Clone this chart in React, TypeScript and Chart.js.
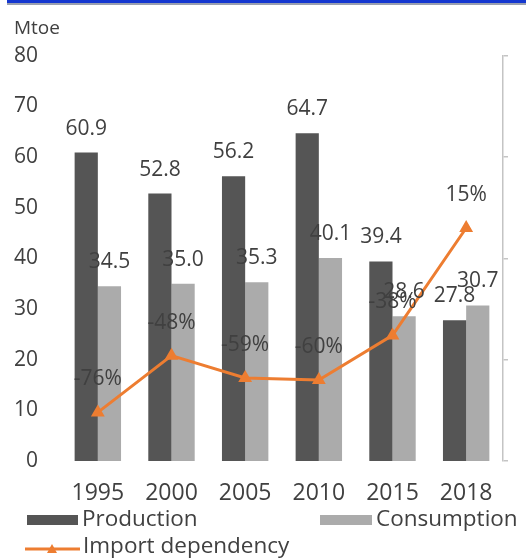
import React, { useEffect, useRef } from "react";
import { Chart, registerables } from "chart.js";

Chart.register(...registerables);

// ---- data ----
const years = ["1995", "2000", "2005", "2010", "2015", "2018"];
const production = [60.9, 52.8, 56.2, 64.7, 39.4, 27.8];
const consumption = [34.5, 35.0, 35.3, 40.1, 28.6, 30.7];
const importDependency = [-76, -48, -59, -60, -38, 15];
const leftAxis = { min: 0, max: 80, step: 10 };
const rightAxis = { min: -100, max: 100, step: 50 };
const unitLabel = "Mtoe";

const FONT = "'Open Sans', 'DejaVu Sans', sans-serif";
const TEXT = "#404040";
const PROD_COLOR = "#555555";
const CONS_COLOR = "#ababab";
const LINE_COLOR = "#ED7D31";

const valueLabels = {
  id: "valueLabels",
  afterDatasetsDraw(chart: any) {
    const ctx = chart.ctx;
    ctx.save();
    ctx.font = `21px ${FONT}`;
    ctx.fillStyle = TEXT;
    ctx.textAlign = "center";
    ctx.textBaseline = "middle";
    chart.data.datasets.forEach((ds: any, i: number) => {
      const meta = chart.getDatasetMeta(i);
      meta.data.forEach((el: any, j: number) => {
        const v = ds.data[j];
        if (ds.type === "line") ctx.fillText(`${v}%`, el.x, el.y - 33);
        else ctx.fillText(Number(v).toFixed(1), el.x, el.y - 24);
      });
    });
    ctx.restore();
  },
};

const bottomLegend = {
  id: "bottomLegend",
  afterDraw(chart: any) {
    const ctx = chart.ctx;
    const ds = chart.data.datasets;
    ctx.save();
    ctx.font = `22.5px ${FONT}`;
    ctx.textAlign = "left";
    ctx.textBaseline = "middle";
    // Production
    ctx.fillStyle = ds[1].backgroundColor;
    ctx.fillRect(27, 515, 51, 10);
    ctx.fillStyle = TEXT;
    ctx.fillText(ds[1].label, 82, 520);
    // Consumption
    ctx.fillStyle = ds[2].backgroundColor;
    ctx.fillRect(320, 515, 52, 10);
    ctx.fillStyle = TEXT;
    ctx.fillText(ds[2].label, 376, 520);
    // Import dependency
    ctx.strokeStyle = ds[0].borderColor;
    ctx.lineWidth = 3;
    ctx.beginPath();
    ctx.moveTo(25, 549);
    ctx.lineTo(80, 549);
    ctx.stroke();
    ctx.fillStyle = ds[0].borderColor;
    ctx.beginPath();
    ctx.moveTo(52, 544);
    ctx.lineTo(57, 553);
    ctx.lineTo(47, 553);
    ctx.closePath();
    ctx.fill();
    ctx.fillStyle = TEXT;
    ctx.fillText(ds[0].label, 83, 547);
    ctx.restore();
  },
};

const zeroPad = (s: any) => {
  s.paddingLeft = 0;
  s.paddingRight = 0;
  s.paddingTop = 0;
  s.paddingBottom = 0;
};

export default function App() {
  const ref = useRef<HTMLCanvasElement | null>(null);

  useEffect(() => {
    document.body.style.margin = "0";
    if (!ref.current) return;
    const chart = new Chart(ref.current, {
      type: "bar",
      data: {
        labels: years,
        datasets: [
          {
            type: "line",
            label: "Import dependency",
            data: importDependency,
            yAxisID: "y1",
            borderColor: LINE_COLOR,
            backgroundColor: LINE_COLOR,
            borderWidth: 3,
            pointStyle: "triangle",
            pointRadius: 5,
            pointBackgroundColor: LINE_COLOR,
            pointBorderColor: LINE_COLOR,
            tension: 0,
            order: 0,
          } as any,
          {
            type: "bar",
            label: "Production",
            data: production,
            yAxisID: "y",
            backgroundColor: PROD_COLOR,
            categoryPercentage: 0.63,
            barPercentage: 1,
            order: 1,
          },
          {
            type: "bar",
            label: "Consumption",
            data: consumption,
            yAxisID: "y",
            backgroundColor: CONS_COLOR,
            categoryPercentage: 0.63,
            barPercentage: 1,
            order: 1,
          },
        ],
      },
      options: {
        animation: false,
        responsive: false,
        maintainAspectRatio: false,
        layout: { padding: { left: 14, right: 18, top: 0, bottom: 53 } },
        plugins: {
          legend: { display: false },
          tooltip: { enabled: false },
          title: {
            display: true,
            text: unitLabel,
            align: "start",
            color: TEXT,
            font: { family: FONT, size: 19, weight: "normal" },
            padding: { top: 17, bottom: 16 },
          },
        },
        scales: {
          x: {
            grid: { display: false, drawTicks: false },
            border: { display: false },
            ticks: {
              color: TEXT,
              font: { family: FONT, size: 23 },
              padding: 19,
              maxRotation: 0,
            },
            afterFit: (s: any) => {
              zeroPad(s);
              s.height = 44;
            },
          },
          y: {
            position: "left",
            min: leftAxis.min,
            max: leftAxis.max,
            grid: { display: false, drawTicks: false },
            border: { display: false },
            ticks: {
              stepSize: leftAxis.step,
              color: TEXT,
              font: { family: FONT, size: 21 },
              padding: 23,
            },
            afterFit: (s: any) => {
              zeroPad(s);
              s.width = 47;
            },
          },
          y1: {
            position: "right",
            min: rightAxis.min,
            max: rightAxis.max,
            grid: {
              display: true,
              drawOnChartArea: false,
              drawTicks: true,
              tickLength: 5,
              color: "#c4c4c4",
              lineWidth: 1.5,
            },
            border: { display: true, color: "#c4c4c4", width: 1.5 },
            ticks: { stepSize: rightAxis.step, display: false },
            afterFit: (s: any) => {
              zeroPad(s);
              s.width = 5;
            },
          },
        },
      },
      plugins: [valueLabels, bottomLegend],
    });
    return () => chart.destroy();
  }, []);

  return (
    <div style={{ position: "relative", width: 526, height: 558, background: "#fff" }}>
      <div style={{ position: "absolute", left: 7, top: 0, width: 519, height: 3, background: "#1437d0" }} />
      <div style={{ position: "absolute", left: 7, top: 3, width: 519, height: 2, background: "#9aa0b0" }} />
      <canvas ref={ref} width={526} height={558} style={{ display: "block" }} />
    </div>
  );
}
